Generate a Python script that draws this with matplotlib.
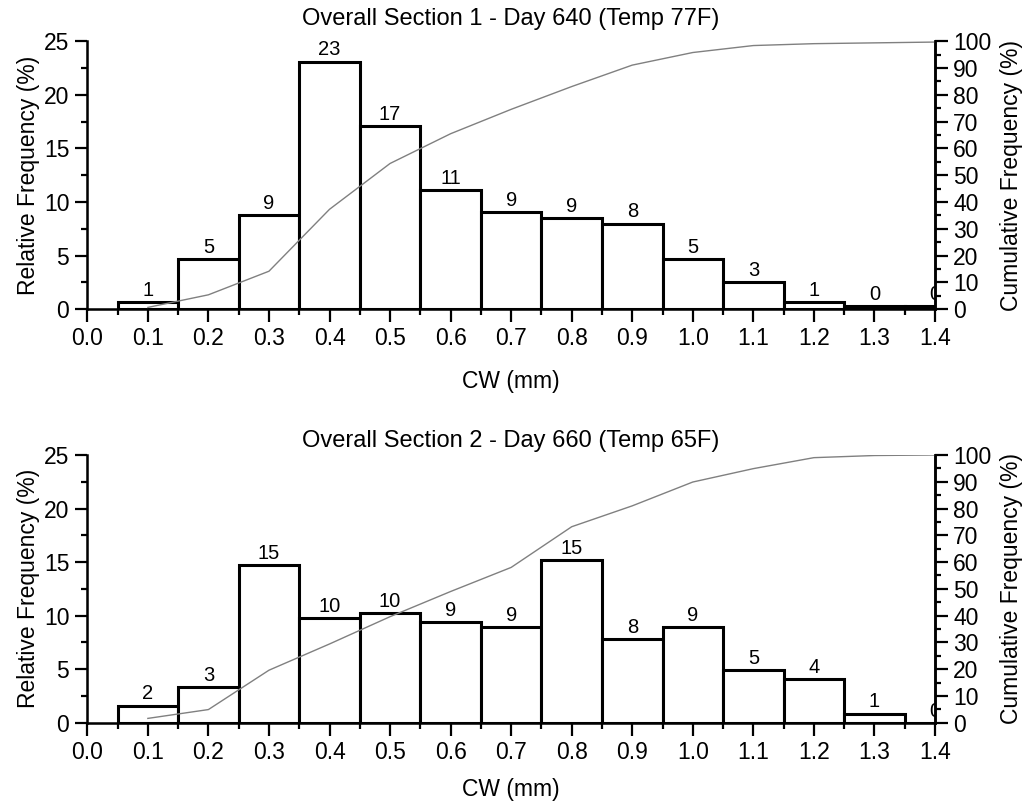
import matplotlib
matplotlib.use("Agg")
import matplotlib.pyplot as plt
from matplotlib.ticker import MultipleLocator

plt.rcParams['font.family'] = ['Liberation Sans', 'DejaVu Sans']

# Données
cw = [0.1, 0.2, 0.3, 0.4, 0.5, 0.6, 0.7, 0.8, 0.9, 1.0, 1.1, 1.2, 1.3, 1.4]

titles = ["Overall Section 1 - Day 640 (Temp 77F)",
          "Overall Section 2 - Day 660 (Temp 65F)"]

freq_1 = [0.7, 4.7, 8.8, 23.1, 17.1, 11.1, 9.05, 8.5, 8.0, 4.7, 2.55, 0.7, 0.3, 0.3]
labels_1 = ["1", "5", "9", "23", "17", "11", "9", "9", "8", "5", "3", "1", "0", "0"]
cum_1 = [0.7, 5.4, 14.2, 37.3, 54.4, 65.5, 74.6, 83.1, 91.1, 95.8, 98.4, 99.1, 99.4, 99.7]

freq_2 = [1.6, 3.3, 14.7, 9.8, 10.2, 9.4, 8.95, 15.15, 7.8, 8.95, 4.95, 4.1, 0.85, 0.0]
labels_2 = ["2", "3", "15", "10", "10", "9", "9", "15", "8", "9", "5", "4", "1", "0"]
cum_2 = [1.6, 4.9, 19.6, 29.4, 39.6, 49.0, 58.0, 73.2, 81.0, 89.9, 94.9, 99.0, 99.8, 100.0]

fig = plt.figure(figsize=(10.26, 8.09), dpi=100)
positions = [[0.0851, 0.6177, 0.8262, 0.3313], [0.0851, 0.1067, 0.8262, 0.3309]]
datasets = [(freq_1, labels_1, cum_1), (freq_2, labels_2, cum_2)]
title_pads = [12, 5.5]
xlabel_pads = [14.5, 10]

for pos, title, (freq, labs, cum), tpad, xpad in zip(positions, titles, datasets, title_pads, xlabel_pads):
    ax = fig.add_axes(pos)
    bars = ax.bar(cw, freq, width=0.1, color='white', edgecolor='black', linewidth=2.2, zorder=2)
    for b, t in zip(bars, labs):
        ax.text(b.get_x() + b.get_width() / 2, b.get_height() + 0.2, t,
                ha='center', va='bottom', fontsize=14.5, clip_on=True, zorder=3)
    ax.set_xlim(0.0, 1.4)
    ax.set_ylim(0, 25)
    ax.xaxis.set_major_locator(MultipleLocator(0.1))
    ax.xaxis.set_minor_locator(MultipleLocator(0.05))
    ax.yaxis.set_major_locator(MultipleLocator(5))
    ax.yaxis.set_minor_locator(MultipleLocator(2.5))
    ax.set_xticklabels([f"{v:.1f}" for v in ax.get_xticks()])
    ax.tick_params(which='major', direction='out', length=9, width=1.6, labelsize=16.5, pad=4)
    ax.tick_params(which='minor', direction='out', length=4.5, width=1.6)
    ax.spines['top'].set_visible(False)
    for s in ['left', 'bottom', 'right']:
        ax.spines[s].set_linewidth(1.8)
    ax.set_xlabel("CW (mm)", fontsize=16.5, labelpad=xpad)
    ax.set_ylabel("Relative Frequency (%)", fontsize=16.5, labelpad=2.5)
    ax.set_title(title, fontsize=17, pad=tpad)

    ax2 = ax.twinx()
    ax2.plot(cw, cum, color='gray', linewidth=1.0, zorder=1)
    ax2.set_ylim(0, 100)
    ax2.yaxis.set_major_locator(MultipleLocator(10))
    ax2.yaxis.set_minor_locator(MultipleLocator(5))
    ax2.tick_params(which='major', direction='out', length=9, width=1.6, labelsize=16.5, pad=4)
    ax2.tick_params(which='minor', direction='out', length=4.5, width=1.6)
    ax2.spines['top'].set_visible(False)
    ax2.spines['right'].set_linewidth(1.8)
    ax2.set_ylabel("Cumulative Frequency (%)", fontsize=16.5, labelpad=6)

fig.savefig("out.png", dpi=100)
